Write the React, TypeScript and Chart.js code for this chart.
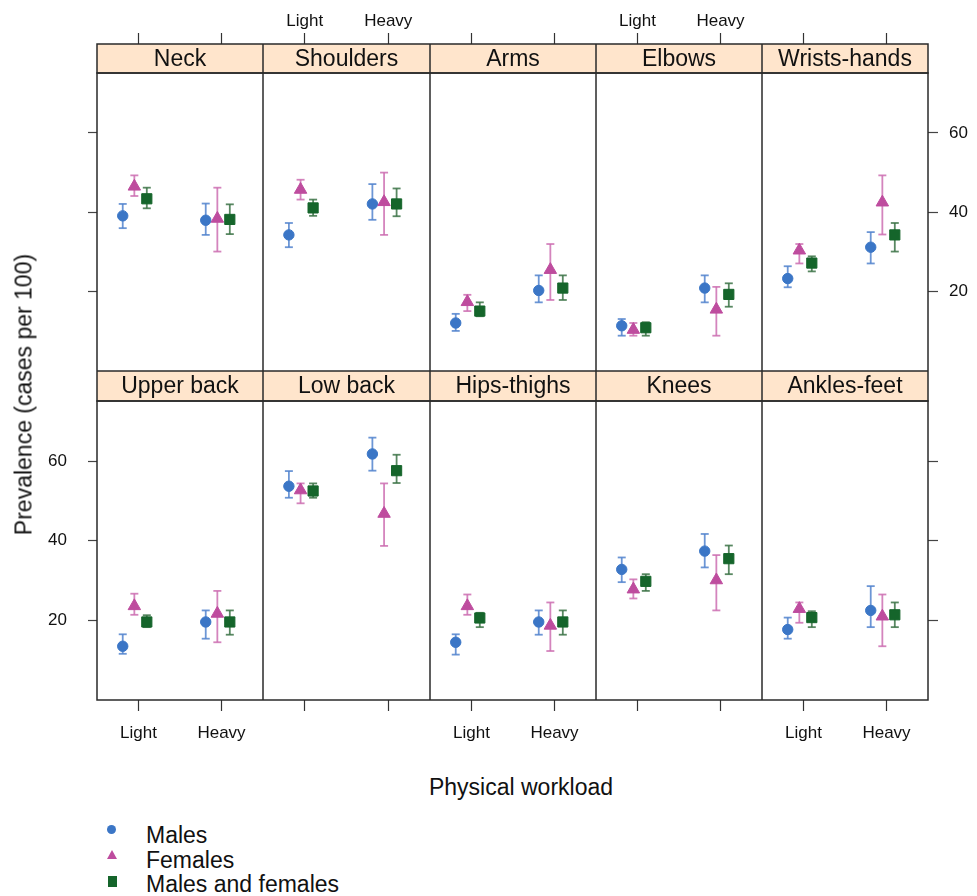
import { useEffect, useRef } from 'react';
import { Chart, registerables } from 'chart.js';

Chart.register(...registerables);
Chart.defaults.font.family = "'Liberation Sans', Arial, sans-serif";

// ---------------- data ----------------
const regions = ['Neck', 'Shoulders', 'Arms', 'Elbows', 'Wrists-hands', 'Upper back', 'Low back', 'Hips-thighs', 'Knees', 'Ankles-feet'];
const workloads = ['Light', 'Heavy'];
const yTickValues = [20, 40, 60];
const seriesNames = ['Males', 'Females', 'Males and females'];

// [Light, Heavy] per region
const malesEst = [[39.1, 38.0], [34.3, 42.1], [12.1, 20.3], [11.4, 20.9], [23.3, 31.2], [13.5, 19.6], [53.7, 61.8], [14.5, 19.6], [32.8, 37.4], [17.7, 22.5]];
const malesLow = [[36.0, 34.3], [31.2, 38.1], [10.1, 17.3], [8.9, 17.3], [21.1, 27.1], [11.6, 15.4], [50.8, 57.6], [11.4, 16.4], [29.6, 33.3], [15.4, 18.3]];
const malesHigh = [[42.1, 42.2], [37.3, 47.1], [14.4, 24.1], [13.1, 24.1], [26.4, 35.0], [16.5, 22.5], [57.5, 65.9], [16.5, 22.5], [35.8, 41.7], [20.7, 28.6]];
const femalesEst = [[46.5, 38.4], [45.7, 42.6], [17.4, 25.5], [10.4, 15.5], [30.4, 42.5], [23.6, 21.7], [52.7, 46.8], [23.6, 18.7], [27.8, 30.1], [22.9, 21.0]];
const femalesLow = [[44.1, 30.1], [43.2, 34.3], [15.1, 17.9], [8.9, 8.9], [27.1, 34.4], [21.4, 14.5], [49.4, 38.7], [21.4, 12.3], [25.5, 22.5], [19.4, 13.5]];
const femalesHigh = [[49.3, 46.2], [48.2, 50.0], [19.2, 32.0], [12.1, 21.2], [32.0, 49.3], [26.7, 27.4], [54.4, 54.4], [26.5, 24.5], [30.3, 36.4], [24.5, 26.5]];
const bothEst = [[43.4, 38.2], [41.1, 42.1], [15.1, 20.9], [10.9, 19.3], [27.2, 34.3], [19.6, 19.6], [52.5, 57.6], [20.6, 19.6], [29.8, 35.5], [20.7, 21.4]];
const bothLow = [[41.0, 34.5], [39.1, 39.0], [13.8, 17.9], [8.9, 16.2], [25.1, 30.1], [18.3, 16.4], [50.8, 54.5], [18.3, 16.4], [27.4, 31.6], [18.3, 18.3]];
const bothHigh = [[46.2, 42.0], [43.2, 46.0], [17.3, 24.1], [12.3, 22.1], [28.9, 37.3], [21.3, 22.5], [54.4, 61.6], [21.9, 22.5], [31.6, 38.8], [22.3, 24.5]];

const seriesEst = [malesEst, femalesEst, bothEst];
const seriesLow = [malesLow, femalesLow, bothLow];
const seriesHigh = [malesHigh, femalesHigh, bothHigh];

// ---------------- styles / layout ----------------
const SERIES_STYLE = [
  { marker: '#3B76C6', bar: 'rgba(82,132,206,0.85)', pointStyle: 'circle', radius: 5.2, offset: -0.19, order: 3 },
  { marker: '#BE4C9E', bar: 'rgba(205,110,178,0.85)', pointStyle: 'triangle', radius: 7.2, offset: -0.05, order: 2 },
  { marker: '#15652B', bar: 'rgba(60,115,70,0.85)', pointStyle: 'rect', radius: 7.2, offset: 0.1, order: 1 },
];
const PANEL_X = [97, 263, 430, 596, 762, 928];
const ROWS = [
  { canvasTop: 0, plotTop: 73, plotBottom: 371, stripH: 29 },
  { canvasTop: 371, plotTop: 401, plotBottom: 700, stripH: 30 },
];
const Y_MIN = 0;
const Y_MAX = 75.1;
const FONT = "'Liberation Sans', Arial, sans-serif";
const TEXT = '#111';

function makeDeco(title: string, stripH: number) {
  return {
    id: 'panelDeco',
    afterDraw(chart: any) {
      const { ctx, chartArea } = chart;
      const { left, top, right, bottom } = chartArea;
      ctx.save();
      ctx.fillStyle = '#FFE5CC';
      ctx.fillRect(left, top - stripH, right - left, stripH);
      ctx.strokeStyle = '#2a2a2a';
      ctx.lineWidth = 1.5;
      ctx.strokeRect(left, top - stripH, right - left, stripH);
      ctx.strokeRect(left, top, right - left, bottom - top);
      ctx.fillStyle = TEXT;
      ctx.font = `23px ${FONT}`;
      ctx.textAlign = 'center';
      ctx.textBaseline = 'alphabetic';
      ctx.fillText(title, (left + right) / 2, top - stripH + 22);
      ctx.restore();
    },
  };
}

function zeroPad(s: any) {
  s.paddingTop = 0;
  s.paddingBottom = 0;
  s.paddingLeft = 0;
  s.paddingRight = 0;
}

function Panel({ index }: { index: number }) {
  const ref = useRef<HTMLCanvasElement>(null);
  const row = Math.floor(index / 5);
  const col = index % 5;
  const R = ROWS[row];
  const plotW = PANEL_X[col + 1] - PANEL_X[col];
  const yAxisW = col === 0 ? 97 : col === 4 ? 49 : 0;
  const canvasLeft = col === 0 ? 0 : PANEL_X[col];
  const canvasW = plotW + yAxisW;
  const topAxisH = row === 0 ? R.plotTop : 0;
  const bottomAxisH = row === 1 ? 60 : 0;
  const padTop = row === 1 ? R.stripH : 0;
  const canvasH = padTop + topAxisH + (R.plotBottom - R.plotTop) + bottomAxisH;

  const showXLabels = row === 0 ? col % 2 === 1 : col % 2 === 0;
  const showYLabels = (col === 0 && row === 1) || (col === 4 && row === 0);

  useEffect(() => {
    const datasets: any[] = [];
    for (let s = 0; s < 3; s++) {
      const st = SERIES_STYLE[s];
      for (let w = 0; w < workloads.length; w++) {
        const x = w + 1 + st.offset;
        datasets.push({
          label: `${seriesNames[s]} ${workloads[w]} CI`,
          type: 'scatter',
          data: [
            { x, y: seriesLow[s][index][w] },
            { x, y: seriesHigh[s][index][w] },
          ],
          showLine: true,
          borderColor: st.bar,
          borderWidth: 1.8,
          pointStyle: 'line',
          pointRadius: 4,
          pointHoverRadius: 4,
          pointBorderColor: st.bar,
          pointBorderWidth: 1.8,
          order: 10 + s,
        });
      }
      datasets.push({
        label: seriesNames[s],
        type: 'scatter',
        data: workloads.map((_, w) => ({ x: w + 1 + st.offset, y: seriesEst[s][index][w] })),
        showLine: false,
        pointStyle: st.pointStyle,
        pointRadius: st.radius,
        pointHoverRadius: st.radius,
        backgroundColor: st.marker,
        borderColor: st.marker,
        pointBorderWidth: 1,
        order: st.order,
      });
    }

    const chart = new Chart(ref.current as HTMLCanvasElement, {
      type: 'scatter',
      data: { datasets },
      options: {
        animation: false,
        responsive: false,
        events: [],
        layout: { autoPadding: false, padding: { top: padTop, left: 0, right: 0, bottom: 0 } },
        plugins: { legend: { display: false }, tooltip: { enabled: false } },
        scales: {
          x: {
            type: 'linear',
            min: 0.5,
            max: 2.5,
            position: row === 0 ? 'top' : 'bottom',
            afterBuildTicks: (s: any) => {
              s.ticks = workloads.map((_, i) => ({ value: i + 1 }));
            },
            afterFit: (s: any) => {
              s.height = row === 0 ? topAxisH : bottomAxisH;
              zeroPad(s);
            },
            ticks: {
              autoSkip: false,
              maxRotation: 0,
              minRotation: 0,
              padding: row === 0 ? 1 : 12,
              color: TEXT,
              font: { size: 17 },
              callback: (v: any) => (showXLabels ? workloads[Math.round(Number(v)) - 1] : ''),
            },
            grid: {
              drawOnChartArea: false,
              drawTicks: true,
              tickLength: row === 0 ? R.stripH + 11 : 11,
              tickColor: '#333',
              tickWidth: 1.2,
            },
            border: { display: false },
          },
          y: {
            type: 'linear',
            min: Y_MIN,
            max: Y_MAX,
            display: col === 0 || col === 4,
            position: col === 4 ? 'right' : 'left',
            afterBuildTicks: (s: any) => {
              s.ticks = yTickValues.map((v) => ({ value: v }));
            },
            afterFit: (s: any) => {
              s.width = yAxisW;
              zeroPad(s);
            },
            ticks: {
              padding: col === 0 ? 21 : 11,
              color: TEXT,
              font: { size: 17 },
              callback: (v: any) => (showYLabels ? String(v) : ''),
            },
            grid: {
              drawOnChartArea: false,
              drawTicks: true,
              tickLength: col === 0 ? 9 : 10,
              tickColor: '#444',
              tickWidth: 1.2,
            },
            border: { display: false },
          },
        },
      } as any,
      plugins: [makeDeco(regions[index], R.stripH)],
    });
    return () => chart.destroy();
  }, []);

  return (
    <canvas
      ref={ref}
      width={canvasW}
      height={canvasH}
      style={{ position: 'absolute', left: canvasLeft, top: R.canvasTop, width: canvasW, height: canvasH }}
    />
  );
}

const textBase: any = {
  position: 'absolute',
  fontFamily: FONT,
  fontSize: 23,
  lineHeight: '23px',
  color: TEXT,
  whiteSpace: 'nowrap',
};

export default function App() {
  return (
    <div
      style={{
        position: 'absolute',
        left: 0,
        top: 0,
        width: 977,
        height: 896,
        background: '#fff',
        overflow: 'hidden',
      }}
    >
      {regions.map((_, i) => (
        <Panel key={i} index={i} />
      ))}

      {/* y axis title */}
      <div
        style={{
          ...textBase,
          left: 24 - 200,
          top: 394 - 11.5,
          width: 400,
          textAlign: 'center',
          transform: 'rotate(-90deg)',
          transformOrigin: '50% 50%',
        }}
      >
        Prevalence (cases per 100)
      </div>

      {/* x axis title */}
      <div style={{ ...textBase, left: 521 - 200, top: 776, width: 400, textAlign: 'center' }}>Physical workload</div>

      {/* legend */}
      <div
        style={{
          position: 'absolute',
          left: 107,
          top: 824.5,
          width: 9,
          height: 9,
          borderRadius: '50%',
          background: SERIES_STYLE[0].marker,
        }}
      />
      <div
        style={{
          position: 'absolute',
          left: 107,
          top: 849.5,
          width: 0,
          height: 0,
          borderLeft: '5px solid transparent',
          borderRight: '5px solid transparent',
          borderBottom: `9px solid ${SERIES_STYLE[1].marker}`,
        }}
      />
      <div
        style={{
          position: 'absolute',
          left: 107.5,
          top: 875.5,
          width: 9,
          height: 11,
          background: SERIES_STYLE[2].marker,
        }}
      />
      <div style={{ ...textBase, left: 146, top: 823.5 }}>{seriesNames[0]}</div>
      <div style={{ ...textBase, left: 146, top: 848.5 }}>{seriesNames[1]}</div>
      <div style={{ ...textBase, left: 146, top: 872.5 }}>{seriesNames[2]}</div>
    </div>
  );
}
